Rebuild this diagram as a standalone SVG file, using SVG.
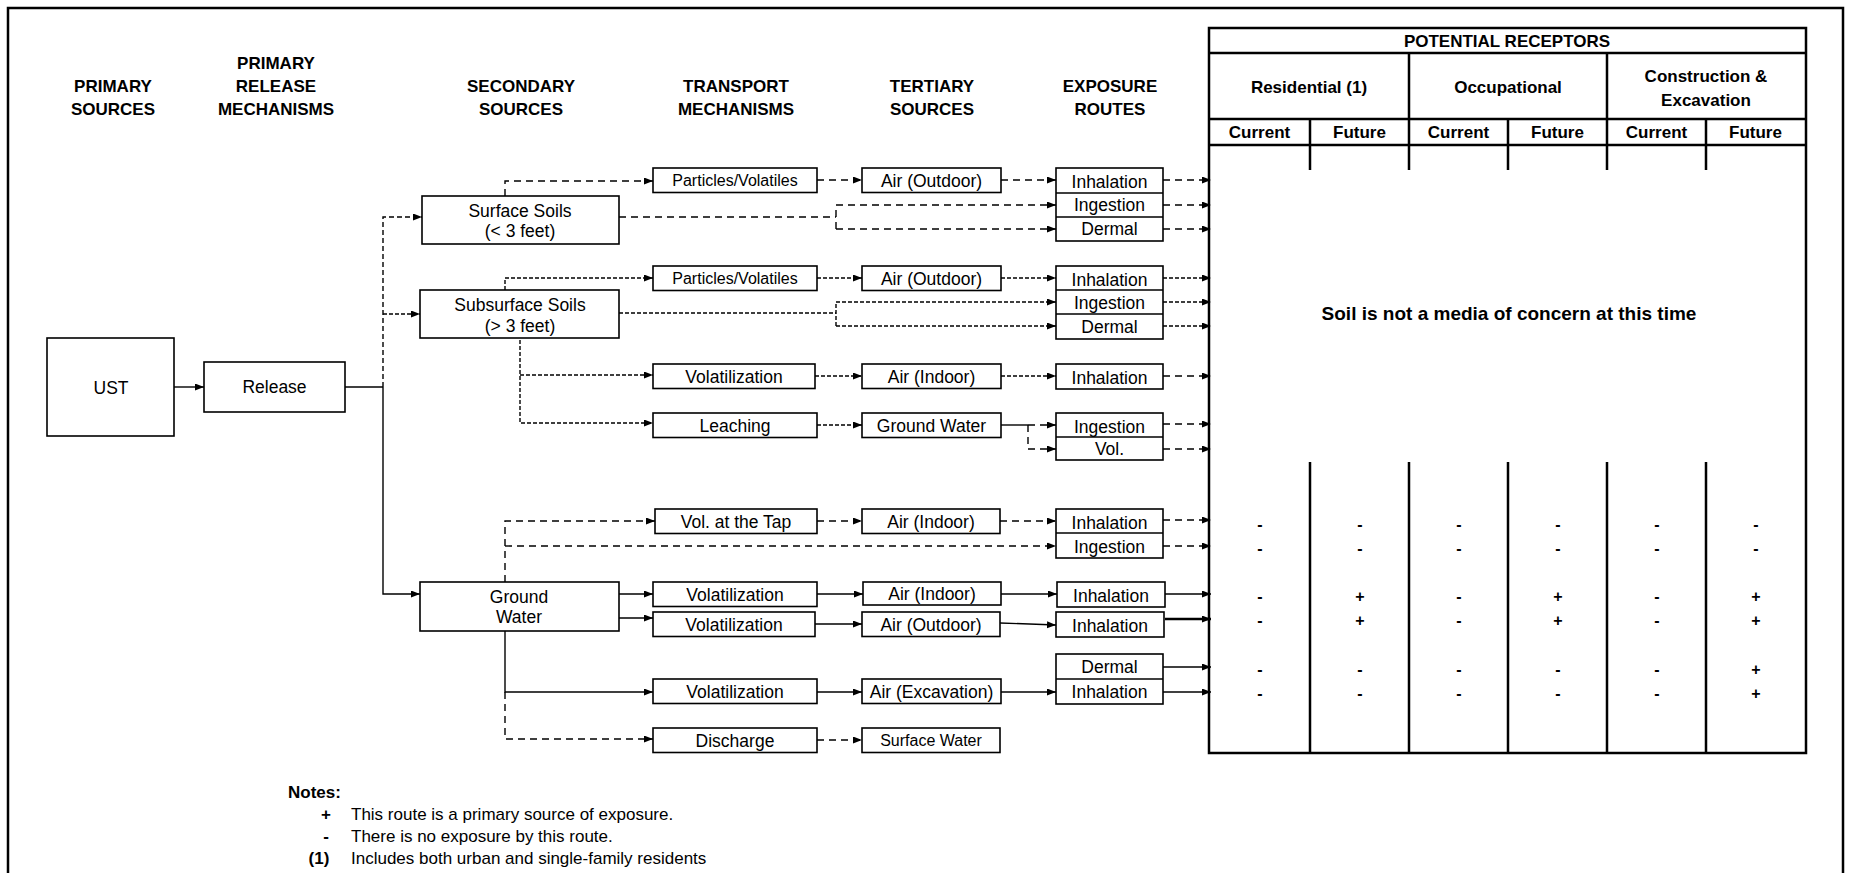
<svg xmlns="http://www.w3.org/2000/svg" width="1851" height="873" viewBox="0 0 1851 873">
<style>
.bg{fill:#fff}
.frame{fill:none;stroke:#000;stroke-width:2.5}
.box{fill:#fff;stroke:#000;stroke-width:1.6}
.t{font-family:"Liberation Sans",Arial,sans-serif;font-size:17.5px;text-anchor:middle;fill:#000}
.ts{font-size:16px}
.h{font-family:"Liberation Sans",Arial,sans-serif;font-size:17px;font-weight:bold;text-anchor:middle;fill:#000}
.th{font-family:"Liberation Sans",Arial,sans-serif;font-size:17px;font-weight:bold;text-anchor:middle;fill:#000}
.mk{font-family:"Liberation Sans",Arial,sans-serif;font-size:16px;font-weight:bold;text-anchor:middle;fill:#000}
.n{font-family:"Liberation Sans",Arial,sans-serif;font-size:17px;fill:#000}
.nb{font-weight:bold}
.c{fill:none;stroke:#000;stroke-width:1.4}
.dl{stroke-dasharray:7 5}
.ds{stroke-dasharray:4 2}
.dv{stroke-dasharray:5 3}
.tl{stroke:#000;stroke-width:2.5;fill:none}
</style>
<defs>
<marker id="a" markerUnits="userSpaceOnUse" markerWidth="10" markerHeight="8" refX="9" refY="3.5" orient="auto">
<path d="M0,0 L9,3.5 L0,7 z" fill="#000"/>
</marker>
</defs>
<rect class="bg" x="0" y="0" width="1851" height="873"/>
<rect class="frame" x="8" y="8" width="1835" height="880"/>

<g id="headers">
<text class="h" x="113" y="92">PRIMARY</text>
<text class="h" x="113" y="115">SOURCES</text>
<text class="h" x="276" y="69">PRIMARY</text>
<text class="h" x="276" y="92">RELEASE</text>
<text class="h" x="276" y="115">MECHANISMS</text>
<text class="h" x="521" y="92">SECONDARY</text>
<text class="h" x="521" y="115">SOURCES</text>
<text class="h" x="736" y="92">TRANSPORT</text>
<text class="h" x="736" y="115">MECHANISMS</text>
<text class="h" x="932" y="92">TERTIARY</text>
<text class="h" x="932" y="115">SOURCES</text>
<text class="h" x="1110" y="92">EXPOSURE</text>
<text class="h" x="1110" y="115">ROUTES</text>
</g>

<g id="connectors">
<path class="c" d="M174,387 H204" marker-end="url(#a)"/>
<path class="c" d="M345,387 H383"/>
<path class="c" d="M383,387 V594 H420" marker-end="url(#a)"/>
<path class="c dv" d="M383,387 V217 H422" marker-end="url(#a)"/>
<path class="c ds" d="M383,314 H420" marker-end="url(#a)"/>
<path class="c dl" d="M505,196 V181 H653" marker-end="url(#a)"/>
<path class="c dl" d="M817,180 H862" marker-end="url(#a)"/>
<path class="c dl" d="M1001,180 H1056" marker-end="url(#a)"/>
<path class="c dl" d="M619,217 H836"/>
<path class="c dl" d="M836,229 V205 H1056" marker-end="url(#a)"/>
<path class="c dl" d="M836,229 H1056" marker-end="url(#a)"/>
<path class="c dl" d="M1163,180 H1211" marker-end="url(#a)"/>
<path class="c dl" d="M1163,205 H1211" marker-end="url(#a)"/>
<path class="c dl" d="M1163,229 H1211" marker-end="url(#a)"/>
<path class="c ds" d="M505,290 V278 H653" marker-end="url(#a)"/>
<path class="c ds" d="M817,278 H862" marker-end="url(#a)"/>
<path class="c ds" d="M1001,278 H1056" marker-end="url(#a)"/>
<path class="c ds" d="M619,313 H836"/>
<path class="c ds" d="M836,326 V302 H1056" marker-end="url(#a)"/>
<path class="c ds" d="M836,326 H1056" marker-end="url(#a)"/>
<path class="c ds" d="M1163,278 H1211" marker-end="url(#a)"/>
<path class="c ds" d="M1163,302 H1211" marker-end="url(#a)"/>
<path class="c ds" d="M1163,326 H1211" marker-end="url(#a)"/>
<path class="c ds" d="M520,334 V423 H653" marker-end="url(#a)"/>
<path class="c ds" d="M520,375 H653" marker-end="url(#a)"/>
<path class="c ds" d="M815,376 H862" marker-end="url(#a)"/>
<path class="c ds" d="M1001,376 H1056" marker-end="url(#a)"/>
<path class="c dl" d="M1163,376 H1211" marker-end="url(#a)"/>
<path class="c ds" d="M817,425 H862" marker-end="url(#a)"/>
<path class="c" d="M1001,425 H1028"/>
<path class="c dl" d="M1028,425 H1056" marker-end="url(#a)"/>
<path class="c dl" d="M1028,425 V449 H1056" marker-end="url(#a)"/>
<path class="c dl" d="M1163,424 H1211" marker-end="url(#a)"/>
<path class="c dl" d="M1163,449 H1211" marker-end="url(#a)"/>
<path class="c dl" d="M505,582 V521 H655" marker-end="url(#a)"/>
<path class="c dl" d="M505,546 H1056" marker-end="url(#a)"/>
<path class="c dl" d="M817,521 H862" marker-end="url(#a)"/>
<path class="c dl" d="M1000,521 H1056" marker-end="url(#a)"/>
<path class="c dl" d="M1163,520 H1211" marker-end="url(#a)"/>
<path class="c dl" d="M1163,546 H1211" marker-end="url(#a)"/>
<path class="c" d="M619,594 H653" marker-end="url(#a)"/>
<path class="c" d="M619,618 H653" marker-end="url(#a)"/>
<path class="c" d="M817,594 H863" marker-end="url(#a)"/>
<path class="c" d="M1001,594 H1057" marker-end="url(#a)"/>
<path class="c" d="M1165,594 H1211" marker-end="url(#a)"/>
<path class="c" d="M815,624 H862" marker-end="url(#a)"/>
<path class="c" d="M1000,623 L1056,625" marker-end="url(#a)"/>
<path class="c" style="stroke-width:2.6" d="M1165,619 H1211" marker-end="url(#a)"/>
<path class="c" d="M1163,667 H1211" marker-end="url(#a)"/>
<path class="c" d="M505,631 V692 H653" marker-end="url(#a)"/>
<path class="c dl" d="M505,692 V739 H653" marker-end="url(#a)"/>
<path class="c" d="M817,692 H862" marker-end="url(#a)"/>
<path class="c" d="M1001,692 H1056" marker-end="url(#a)"/>
<path class="c" d="M1163,692 H1211" marker-end="url(#a)"/>
<path class="c dl" d="M817,740 H862" marker-end="url(#a)"/>
</g>

<g id="n-ust"><rect class="box" x="47" y="338" width="127" height="98"/><text class="t" x="111" y="394">UST</text></g>
<g id="n-release"><rect class="box" x="204" y="362" width="141" height="50"/><text class="t" x="274.5" y="393">Release</text></g>
<g id="n-surface"><rect class="box" x="422" y="196" width="197" height="48"/><text class="t" x="520" y="217">Surface Soils</text><text class="t" x="520" y="237">(&lt; 3 feet)</text></g>
<g id="n-subsurface"><rect class="box" x="420" y="290" width="199" height="48"/><text class="t" x="520" y="311">Subsurface Soils</text><text class="t" x="520" y="332">(&gt; 3 feet)</text></g>
<g id="n-gw"><rect class="box" x="420" y="582" width="199" height="49"/><text class="t" x="519" y="603">Ground</text><text class="t" x="519" y="623">Water</text></g>

<g id="n-tr1"><rect class="box" x="653" y="168" width="164" height="24.5"/><text class="t ts" x="735" y="186">Particles/Volatiles</text></g>
<g id="n-tr2"><rect class="box" x="653" y="266" width="164" height="24.5"/><text class="t ts" x="735" y="284">Particles/Volatiles</text></g>
<g id="n-tr3"><rect class="box" x="653" y="364" width="162" height="24.5"/><text class="t" x="734" y="382.5">Volatilization</text></g>
<g id="n-tr4"><rect class="box" x="653" y="413" width="164" height="24.5"/><text class="t" x="735" y="431.5">Leaching</text></g>
<g id="n-tr5"><rect class="box" x="655" y="509" width="162" height="24.5"/><text class="t" x="736" y="527.5">Vol. at the Tap</text></g>
<g id="n-tr6"><rect class="box" x="653" y="582" width="164" height="24.5"/><text class="t" x="735" y="600.5">Volatilization</text></g>
<g id="n-tr7"><rect class="box" x="653" y="612" width="162" height="24.5"/><text class="t" x="734" y="630.5">Volatilization</text></g>
<g id="n-tr8"><rect class="box" x="653" y="679" width="164" height="24.5"/><text class="t" x="735" y="697.5">Volatilization</text></g>
<g id="n-tr9"><rect class="box" x="653" y="728" width="164" height="24.5"/><text class="t" x="735" y="746.5">Discharge</text></g>

<g id="n-te1"><rect class="box" x="862" y="168" width="139" height="24.5"/><text class="t" x="931.5" y="186.5">Air (Outdoor)</text></g>
<g id="n-te2"><rect class="box" x="862" y="266" width="139" height="24.5"/><text class="t" x="931.5" y="284.5">Air (Outdoor)</text></g>
<g id="n-te3"><rect class="box" x="862" y="364" width="139" height="24.5"/><text class="t" x="931.5" y="382.5">Air (Indoor)</text></g>
<g id="n-te4"><rect class="box" x="862" y="413" width="139" height="24.5"/><text class="t" x="931.5" y="431.5">Ground Water</text></g>
<g id="n-te5"><rect class="box" x="862" y="509" width="138" height="24.5"/><text class="t" x="931" y="527.5">Air (Indoor)</text></g>
<g id="n-te6"><rect class="box" x="863" y="582" width="138" height="23"/><text class="t" x="932" y="599.5">Air (Indoor)</text></g>
<g id="n-te7"><rect class="box" x="862" y="612" width="138" height="24.5"/><text class="t" x="931" y="630.5">Air (Outdoor)</text></g>
<g id="n-te8"><rect class="box" x="862" y="679" width="139" height="24.5"/><text class="t" x="931.5" y="697.5">Air (Excavation)</text></g>
<g id="n-te9"><rect class="box" x="862" y="728" width="138" height="24.5"/><text class="t ts" x="931" y="746">Surface Water</text></g>

<g id="n-ex1">
<rect class="box" x="1056" y="168" width="107" height="73"/>
<path class="c" style="stroke-width:1.6" d="M1056,193 H1163 M1056,217 H1163"/>
<text class="t" x="1109.5" y="188">Inhalation</text><text class="t" x="1109.5" y="211">Ingestion</text><text class="t" x="1109.5" y="235">Dermal</text>
</g>
<g id="n-ex2">
<rect class="box" x="1056" y="266" width="107" height="73"/>
<path class="c" style="stroke-width:1.6" d="M1056,290 H1163 M1056,314 H1163"/>
<text class="t" x="1109.5" y="286">Inhalation</text><text class="t" x="1109.5" y="309">Ingestion</text><text class="t" x="1109.5" y="333">Dermal</text>
</g>
<g id="n-ex3"><rect class="box" x="1056" y="364" width="107" height="25"/><text class="t" x="1109.5" y="384">Inhalation</text></g>
<g id="n-ex4">
<rect class="box" x="1056" y="413" width="107" height="47"/>
<path class="c" style="stroke-width:1.6" d="M1056,437 H1163"/>
<text class="t" x="1109.5" y="433">Ingestion</text><text class="t" x="1109.5" y="455">Vol.</text>
</g>
<g id="n-ex5">
<rect class="box" x="1056" y="509" width="107" height="49"/>
<path class="c" style="stroke-width:1.6" d="M1056,533 H1163"/>
<text class="t" x="1109.5" y="529">Inhalation</text><text class="t" x="1109.5" y="553">Ingestion</text>
</g>
<g id="n-ex6"><rect class="box" x="1057" y="582" width="108" height="25"/><text class="t" x="1111" y="602">Inhalation</text></g>
<g id="n-ex7"><rect class="box" x="1056" y="612" width="108" height="25"/><text class="t" x="1110" y="632">Inhalation</text></g>
<g id="n-ex8">
<rect class="box" x="1056" y="654" width="107" height="50"/>
<path class="c" style="stroke-width:1.6" d="M1056,679 H1163"/>
<text class="t" x="1109.5" y="673">Dermal</text><text class="t" x="1109.5" y="698">Inhalation</text>
</g>

<g id="receptors">
<rect class="tl" x="1209" y="28" width="597" height="725"/>
<path class="tl" d="M1209,53 H1806 M1209,119 H1806 M1209,145 H1806"/>
<path class="tl" d="M1409,53 V170 M1607,53 V170 M1310,119 V170 M1508,119 V170 M1706,119 V170"/>
<path class="tl" d="M1310,462 V753 M1409,462 V753 M1508,462 V753 M1607,462 V753 M1706,462 V753"/>
<text class="th" x="1507" y="47">POTENTIAL RECEPTORS</text>
<text class="th" x="1309" y="93">Residential (1)</text>
<text class="th" x="1508" y="93">Occupational</text>
<text class="th" x="1706" y="82">Construction &amp;</text>
<text class="th" x="1706" y="106">Excavation</text>
<text class="th" x="1259.5" y="138">Current</text>
<text class="th" x="1359.5" y="138">Future</text>
<text class="th" x="1458.5" y="138">Current</text>
<text class="th" x="1557.5" y="138">Future</text>
<text class="th" x="1656.5" y="138">Current</text>
<text class="th" x="1755.5" y="138">Future</text>
<text class="h" style="font-size:19px" x="1509" y="320">Soil is not a media of concern at this time</text>
</g>

<g id="marks">
<text class="mk" x="1260" y="530">-</text><text class="mk" x="1360" y="530">-</text><text class="mk" x="1459" y="530">-</text><text class="mk" x="1558" y="530">-</text><text class="mk" x="1657" y="530">-</text><text class="mk" x="1756" y="530">-</text>
<text class="mk" x="1260" y="554">-</text><text class="mk" x="1360" y="554">-</text><text class="mk" x="1459" y="554">-</text><text class="mk" x="1558" y="554">-</text><text class="mk" x="1657" y="554">-</text><text class="mk" x="1756" y="554">-</text>
<text class="mk" x="1260" y="602">-</text><text class="mk" x="1360" y="602">+</text><text class="mk" x="1459" y="602">-</text><text class="mk" x="1558" y="602">+</text><text class="mk" x="1657" y="602">-</text><text class="mk" x="1756" y="602">+</text>
<text class="mk" x="1260" y="626">-</text><text class="mk" x="1360" y="626">+</text><text class="mk" x="1459" y="626">-</text><text class="mk" x="1558" y="626">+</text><text class="mk" x="1657" y="626">-</text><text class="mk" x="1756" y="626">+</text>
<text class="mk" x="1260" y="675">-</text><text class="mk" x="1360" y="675">-</text><text class="mk" x="1459" y="675">-</text><text class="mk" x="1558" y="675">-</text><text class="mk" x="1657" y="675">-</text><text class="mk" x="1756" y="675">+</text>
<text class="mk" x="1260" y="699">-</text><text class="mk" x="1360" y="699">-</text><text class="mk" x="1459" y="699">-</text><text class="mk" x="1558" y="699">-</text><text class="mk" x="1657" y="699">-</text><text class="mk" x="1756" y="699">+</text>
</g>

<g id="notes">
<text class="n nb" x="288" y="798">Notes:</text>
<text class="n nb" x="326" y="820" text-anchor="middle">+</text>
<text class="n" x="351" y="820">This route is a primary source of exposure.</text>
<text class="n nb" x="326" y="842" text-anchor="middle">-</text>
<text class="n" x="351" y="842">There is no exposure by this route.</text>
<text class="n nb" x="319" y="864" text-anchor="middle">(1)</text>
<text class="n" x="351" y="864">Includes both urban and single-family residents</text>
</g>
</svg>
